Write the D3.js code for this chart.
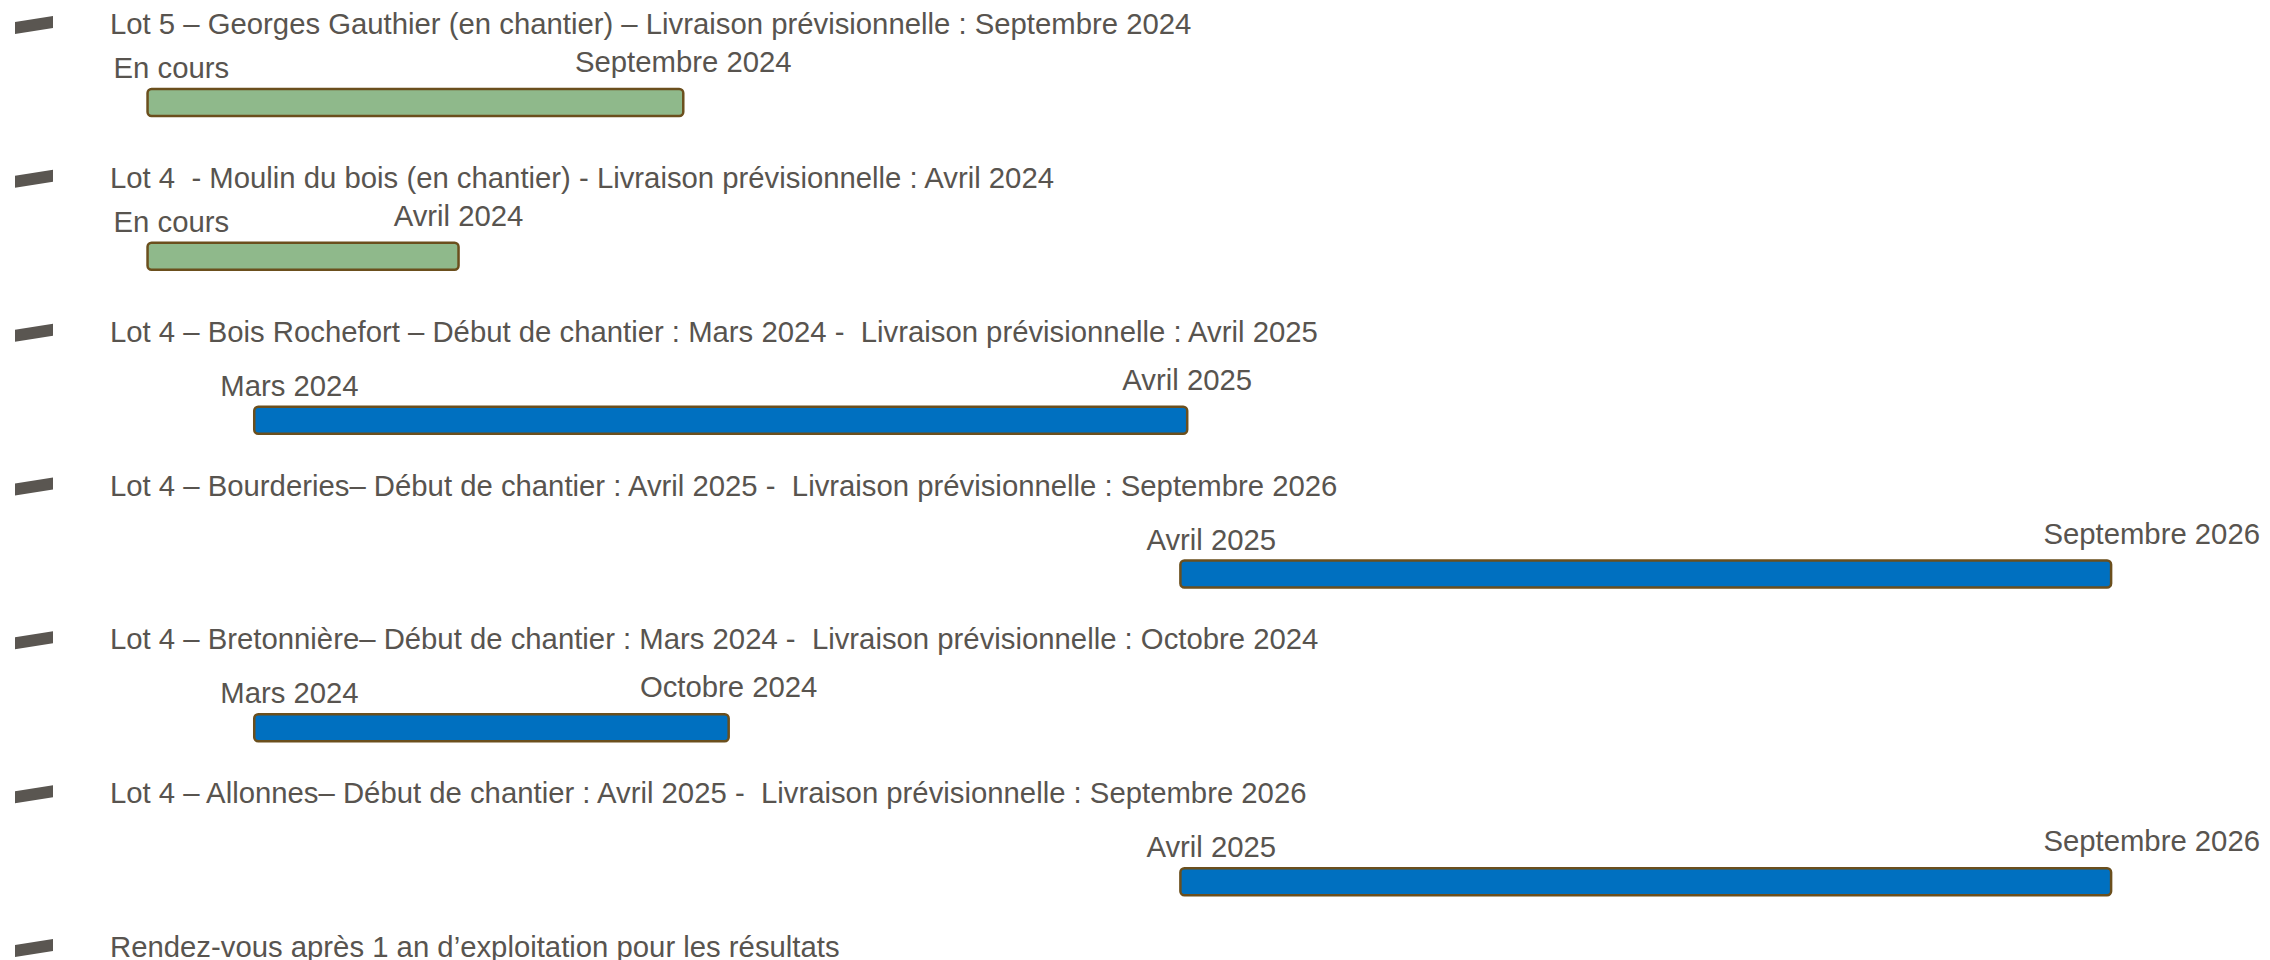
<!DOCTYPE html>
<html lang="fr">
<head>
    <meta charset="UTF-8">
    <title>planning des lots</title>
    <script src="https://cdn.jsdelivr.net/npm/d3@7/dist/d3.min.js"></script>
    <style>
        html, body {
            margin: 0;
            padding: 0;
            background: #fff;
        }

        svg text {
            font-family: "Liberation Sans", Arial, sans-serif;
            font-size: 29.3px;
            fill: #58544f;
            white-space: pre;
        }

        svg .bullet {
            fill: #5a5651;
        }

        svg .bar {
            stroke: #6b4f1d;
            stroke-width: 2.5px;
        }
    </style>
</head>
<body>
    <svg width="2270" height="960"></svg>
    <script>
    	// lignes du planning
    	var titles = [
    		'Lot 5 – Georges Gauthier (en chantier) – Livraison prévisionnelle : Septembre 2024',
    		'Lot 4  - Moulin du bois (en chantier) - Livraison prévisionnelle : Avril 2024',
    		'Lot 4 – Bois Rochefort – Début de chantier : Mars 2024 -  Livraison prévisionnelle : Avril 2025',
    		'Lot 4 – Bourderies– Début de chantier : Avril 2025 -  Livraison prévisionnelle : Septembre 2026',
    		'Lot 4 – Bretonnière– Début de chantier : Mars 2024 -  Livraison prévisionnelle : Octobre 2024',
    		'Lot 4 – Allonnes– Début de chantier : Avril 2025 -  Livraison prévisionnelle : Septembre 2026',
    		'Rendez-vous après 1 an d’exploitation pour les résultats'
    	];

    	// barres (position sur la frise, en % de la largeur)
    	var startLabels = ['En cours', 'En cours', 'Mars 2024', 'Avril 2025', 'Mars 2024', 'Avril 2025'],
    		endLabels = ['Septembre 2024', 'Avril 2024', 'Avril 2025', 'Septembre 2026', 'Octobre 2024', 'Septembre 2026'],
    		barStart = [6.5, 6.5, 11.2, 52.0, 11.2, 52.0],
    		barEnd = [30.1, 20.2, 52.3, 93.0, 32.1, 93.0],
    		barStatus = ['en cours', 'en cours', 'prévu', 'prévu', 'prévu', 'prévu'];

    	var svg = d3.select('svg'),
    		width = 2270,
    		x = d3.scaleLinear().domain([0, 100]).range([0, width]),
    		row = d3.scalePoint().domain(d3.range(titles.length)).range([34, 957]),
    		color = d3.scaleOrdinal().domain(['en cours', 'prévu']).range(['#8fb98b', '#0070c0']),
    		barH = 27;

    	var bars = barStart.map(function(s, i) {
    		return { i: i, start: s, end: barEnd[i], from: startLabels[i], to: endLabels[i], status: barStatus[i] };
    	});

    	function barTop(d) {
    		return row(d.i) + (d.status === 'en cours' ? 55 : 65);
    	}

    	// puces + titres
    	var lines = svg.selectAll('g.line')
    		.data(titles)
    		.enter().append('g')
    		.attr('class', 'line')
    		.attr('transform', function(d, i) { return 'translate(0,' + row(i) + ')'; });

    	lines.append('path')
    		.attr('class', 'bullet')
    		.attr('d', 'M15,-12 L53,-18 L53,-6 L15,0 Z');

    	lines.append('text')
    		.attr('x', 110)
    		.attr('y', 0)
    		.text(function(d) { return d; });

    	// barres
    	svg.selectAll('rect.bar')
    		.data(bars)
    		.enter().append('rect')
    		.attr('class', 'bar')
    		.attr('x', function(d) { return x(d.start); })
    		.attr('y', barTop)
    		.attr('width', function(d) { return x(d.end) - x(d.start); })
    		.attr('height', barH)
    		.attr('rx', 4)
    		.attr('fill', function(d) { return color(d.status); });

    	svg.selectAll('text.from')
    		.data(bars)
    		.enter().append('text')
    		.attr('class', 'from')
    		.attr('x', function(d) { return x(d.start) - 34; })
    		.attr('y', function(d) { return barTop(d) - 11; })
    		.text(function(d) { return d.from; });

    	// libellé de fin centré sur la fin de barre, calé à droite près du bord
    	svg.selectAll('text.to')
    		.data(bars)
    		.enter().append('text')
    		.attr('class', 'to')
    		.attr('y', function(d) { return barTop(d) - 17; })
    		.attr('text-anchor', function(d) { return d.end > 90 ? 'end' : 'middle'; })
    		.attr('x', function(d) { return d.end > 90 ? width - 10 : x(d.end); })
    		.text(function(d) { return d.to; });
    </script>
</body>
</html>
